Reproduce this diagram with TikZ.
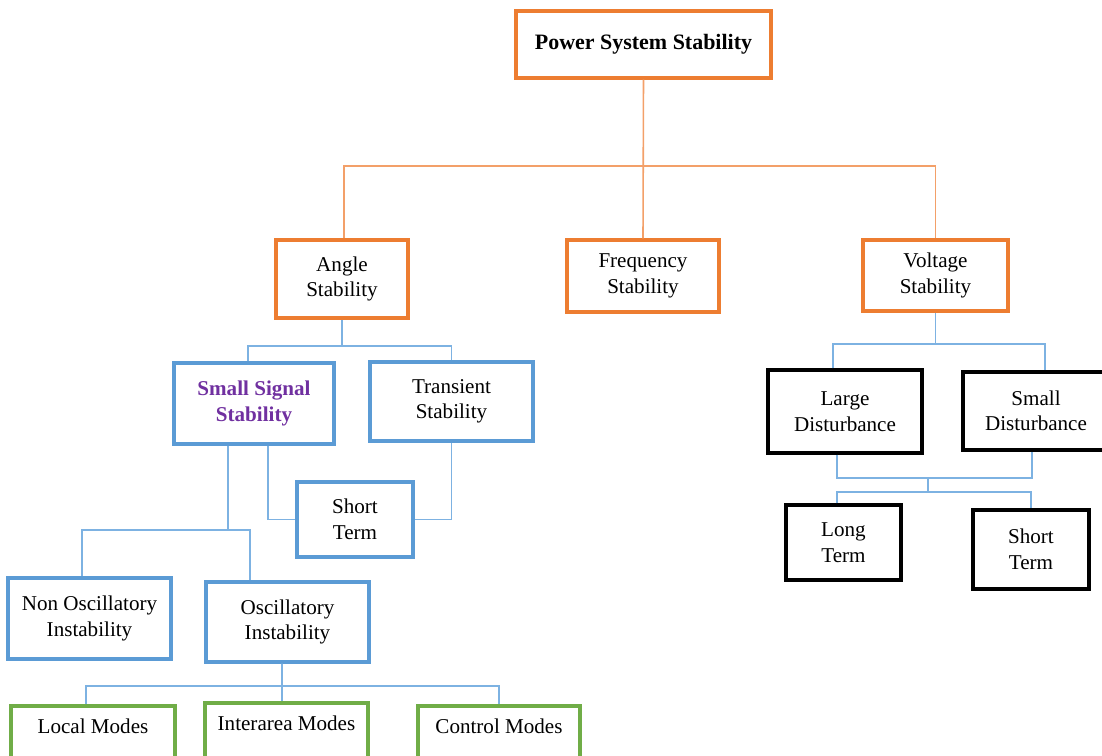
\documentclass[tikz,border=0pt]{standalone}
\usepackage{xcolor}
\usepackage{fontspec}
\setmainfont{Liberation Serif}
\usepackage{tikz}
\usetikzlibrary{positioning, calc}
\definecolor{stabcolor}{RGB}{237,125,49}
\definecolor{stablink}{RGB}{243,160,105}
\definecolor{classcolor}{RGB}{91,155,213}
\definecolor{classlink}{RGB}{125,178,226}
\definecolor{modecolor}{RGB}{112,173,71}
\definecolor{titlecolor}{RGB}{112,48,160}

\begin{document}
\begin{tikzpicture}[
    box/.style={draw, line width=1.9pt, align=center, font=\fontsize{12}{14.5}\selectfont},
    stabbox/.style={box, draw=stabcolor},
    classbox/.style={box, draw=classcolor},
    termbox/.style={box, draw=black},
    modebox/.style={box, draw=modecolor, minimum height=1.3cm, text depth=0.5cm},
    stabline/.style={draw=stablink, line width=0.9pt},
    classline/.style={draw=classlink, line width=0.9pt}
]
    \useasboundingbox (0,0) rectangle (22.04,-15.12);

    % Top level
    \node[stabbox, minimum width=5.1cm, minimum height=1.34cm, text depth=0.12cm, font=\fontsize{12.5}{14.5}\selectfont\bfseries] (power) at (12.87,-0.89) {Power System Stability};

    \node[stabbox, minimum width=2.64cm, minimum height=1.56cm] (angle) at (6.84,-5.58) {Angle\\Stability};
    \node[stabbox, minimum width=3.04cm, minimum height=1.44cm] (freq) at (12.86,-5.52) {Frequency\\Stability};
    \node[stabbox, minimum width=2.9cm, minimum height=1.42cm] (volt) at (18.71,-5.51) {Voltage\\Stability};

    \coordinate (pbus) at (12.84,-3.32);
    \draw[stabline] (power.south) -- (freq.north);
    \draw[stabline] ([xshift=0.04cm]angle.north) |- (pbus) -| (volt.north);

    % Angle stability branch
    \node[classbox, minimum width=3.2cm, minimum height=1.62cm, text=titlecolor, font=\fontsize{12}{14.5}\selectfont\bfseries] (ssig) at (5.08,-8.07) {Small Signal\\Stability};
    \node[classbox, minimum width=3.26cm, minimum height=1.58cm] (trans) at (9.03,-8.03) {Transient\\Stability};
    \node[classbox, minimum width=2.32cm, minimum height=1.5cm] (shortA) at (7.1,-10.39) {Short\\Term};

    \coordinate (abus) at (6.84,-6.92);
    \draw[classline] (angle.south) -- (abus);
    \draw[classline] ([xshift=-0.12cm]ssig.north) |- (abus) -| (trans.north);
    \draw[classline] ([xshift=0.28cm]ssig.south) |- (shortA.west);
    \draw[classline] (trans.south) |- (shortA.east);

    \node[classbox, minimum width=3.26cm, minimum height=1.62cm] (nonosc) at (1.79,-12.37) {Non Oscillatory\\Instability};
    \node[classbox, minimum width=3.26cm, minimum height=1.6cm] (osc) at (5.75,-12.44) {Oscillatory\\Instability};

    \coordinate (sbus) at (4.56,-10.6);
    \draw[classline] ([xshift=-0.52cm]ssig.south) -- (sbus);
    \draw[classline] ([xshift=-0.15cm]nonosc.north) |- (sbus) -| ([xshift=-0.75cm]osc.north);

    % Modes
    \node[modebox, minimum width=3.28cm] (local) at (1.86,-14.77) {Local Modes};
    \node[modebox, minimum width=3.26cm] (inter) at (5.73,-14.71) {Interarea Modes};
    \node[modebox, minimum width=3.24cm] (control) at (9.98,-14.77) {Control Modes};

    \coordinate (obus) at (5.64,-13.72);
    \draw[classline] ([xshift=-0.11cm]osc.south) -- (obus);
    \draw[classline] ([xshift=-0.14cm]local.north) |- (obus) -| (control.north);
    \draw[classline] (obus) -- (obus |- inter.north);

    % Voltage stability branch
    \node[termbox, minimum width=3.08cm, minimum height=1.66cm] (large) at (16.9,-8.23) {Large\\Disturbance};
    \node[termbox, minimum width=2.92cm, minimum height=1.56cm] (sdist) at (20.72,-8.22) {Small\\Disturbance};

    \coordinate (vbus) at (18.71,-6.88);
    \draw[classline] (volt.south) -- (vbus);
    \draw[classline] ([xshift=-0.24cm]large.north) |- (vbus) -| ([xshift=0.18cm]sdist.north);

    \node[termbox, minimum width=2.3cm, minimum height=1.5cm] (long) at (16.87,-10.85) {Long\\Term};
    \node[termbox, minimum width=2.32cm, minimum height=1.58cm] (shortV) at (20.62,-10.99) {Short\\Term};

    \coordinate (dbus) at (18.56,-9.56);
    \coordinate (tbus) at (18.56,-9.84);
    \draw[classline] ([xshift=-0.16cm]large.south) |- (dbus) -| ([xshift=-0.08cm]sdist.south);
    \draw[classline] (dbus) -- (tbus);
    \draw[classline] ([xshift=-0.13cm]long.north) |- (tbus) -| (shortV.north);
\end{tikzpicture}
\end{document}
